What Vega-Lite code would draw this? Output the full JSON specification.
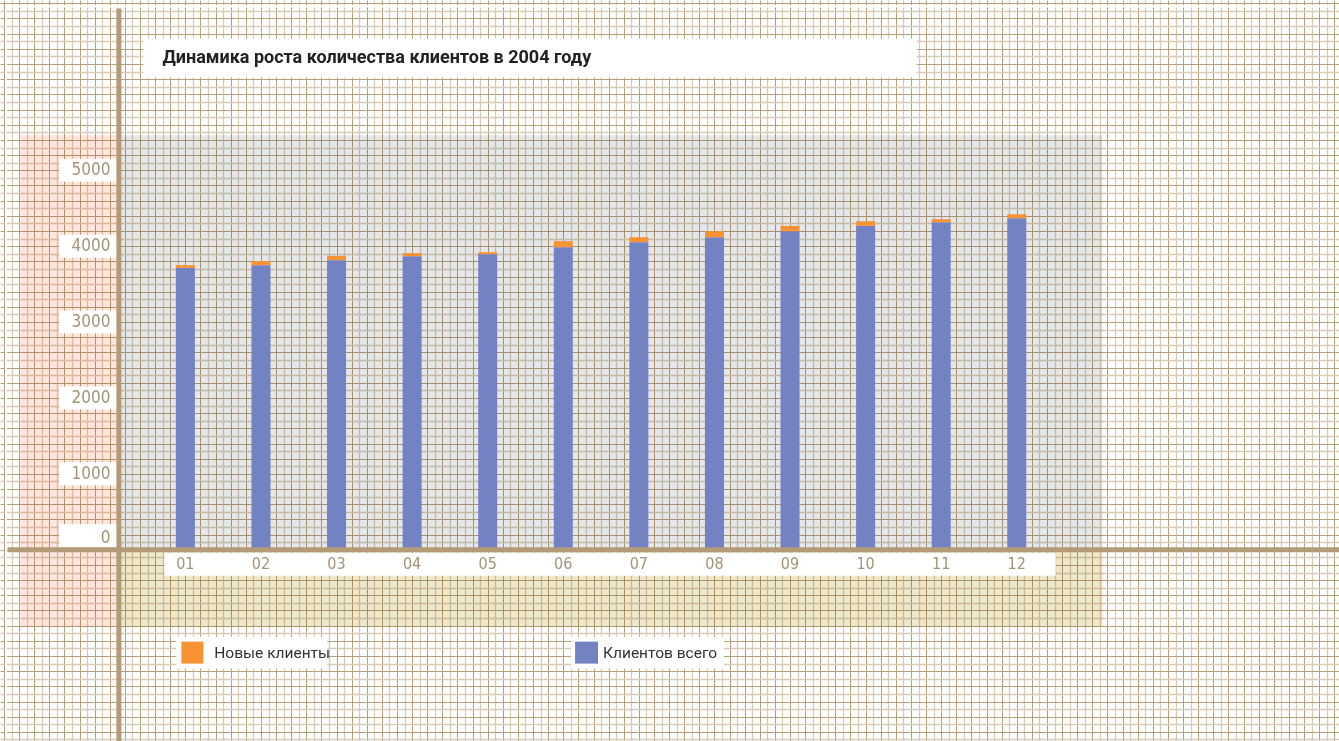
{
  "$schema": "https://vega.github.io/schema/vega-lite/v6.json",
  "width": 1339,
  "height": 741,
  "autosize": {"type": "none"},
  "padding": 0,
  "background": "white",
  "config": {
    "view": {"stroke": null},
    "axis": {"labels": false, "ticks": false, "domain": false, "title": null, "grid": true, "gridOpacity": 1}
  },
  "datasets": {
    "clients": [
      {"month": "01", "m": 1, "series": "Клиентов всего", "value": 3714},
      {"month": "01", "m": 1, "series": "Новые клиенты", "value": 36},
      {"month": "02", "m": 2, "series": "Клиентов всего", "value": 3750},
      {"month": "02", "m": 2, "series": "Новые клиенты", "value": 53},
      {"month": "03", "m": 3, "series": "Клиентов всего", "value": 3816},
      {"month": "03", "m": 3, "series": "Новые клиенты", "value": 56},
      {"month": "04", "m": 4, "series": "Клиентов всего", "value": 3868},
      {"month": "04", "m": 4, "series": "Новые клиенты", "value": 40},
      {"month": "05", "m": 5, "series": "Клиентов всего", "value": 3895},
      {"month": "05", "m": 5, "series": "Новые клиенты", "value": 26},
      {"month": "06", "m": 6, "series": "Клиентов всего", "value": 3987},
      {"month": "06", "m": 6, "series": "Новые клиенты", "value": 79},
      {"month": "07", "m": 7, "series": "Клиентов всего", "value": 4053},
      {"month": "07", "m": 7, "series": "Новые клиенты", "value": 65},
      {"month": "08", "m": 8, "series": "Клиентов всего", "value": 4118},
      {"month": "08", "m": 8, "series": "Новые клиенты", "value": 79},
      {"month": "09", "m": 9, "series": "Клиентов всего", "value": 4197},
      {"month": "09", "m": 9, "series": "Новые клиенты", "value": 70},
      {"month": "10", "m": 10, "series": "Клиентов всего", "value": 4267},
      {"month": "10", "m": 10, "series": "Новые клиенты", "value": 62},
      {"month": "11", "m": 11, "series": "Клиентов всего", "value": 4316},
      {"month": "11", "m": 11, "series": "Новые клиенты", "value": 39},
      {"month": "12", "m": 12, "series": "Клиентов всего", "value": 4368},
      {"month": "12", "m": 12, "series": "Новые клиенты", "value": 53}
    ],
    "ticks": [{"v": 0}, {"v": 1000}, {"v": 2000}, {"v": 3000}, {"v": 4000}, {"v": 5000}],
    "one": [{}]
  },
  "encoding": {
    "x": {
      "type": "quantitative",
      "scale": {"domain": [-1.3863, 16.197], "nice": false, "zero": false},
      "axis": {
        "tickCount": 176,
        "gridColor": {"condition": {"test": "round(datum.value*10) % 2 === 0", "value": "#b6a07c"}, "value": "#d8ccb9"},
        "gridWidth": {"condition": {"test": "round(datum.value*10) % 2 === 0", "value": 1}, "value": 1.3}
      }
    },
    "y": {
      "type": "quantitative",
      "scale": {"domain": [-2453.9, 7177.6], "nice": false, "zero": false},
      "axis": {
        "tickCount": 96,
        "gridColor": {"condition": {"test": "round(datum.value/100) % 2 === 0", "value": "#b6a07c"}, "value": "#d8ccb9"},
        "gridWidth": {"condition": {"test": "round(datum.value/100) % 2 === 0", "value": 1}, "value": 1.3}
      }
    }
  },
  "layer": [
    {
      "data": {"name": "one"},
      "mark": {"type": "rect", "fill": "white"},
      "encoding": {"x": {"datum": -1.3863, "type": "quantitative"}, "x2": {"datum": -1.36}, "y": {"datum": -2453.9, "type": "quantitative"}, "y2": {"datum": 7177.6}}
    },
    {
      "data": {"name": "one"},
      "mark": {"type": "rect", "fill": "white"},
      "encoding": {"x": {"datum": -1.3863, "type": "quantitative"}, "x2": {"datum": 16.197}, "y": {"datum": 7145, "type": "quantitative"}, "y2": {"datum": 7177.6}}
    },
    {
      "data": {"name": "one"},
      "mark": {"type": "rect", "fill": "#ffe6dc", "blend": "multiply"},
      "encoding": {"x": {"datum": -1.1814, "type": "quantitative"}, "x2": {"datum": 0.121}, "y": {"datum": -1013, "type": "quantitative"}, "y2": {"datum": 5460}}
    },
    {
      "data": {"name": "one"},
      "mark": {"type": "rect", "fill": "#e6e7e9", "blend": "multiply"},
      "encoding": {"x": {"datum": 0.121, "type": "quantitative"}, "x2": {"datum": 13.1364}, "y": {"datum": 0, "type": "quantitative"}, "y2": {"datum": 5460}}
    },
    {
      "data": {"name": "one"},
      "mark": {"type": "rect", "fill": "#eee8cc", "blend": "multiply"},
      "encoding": {"x": {"datum": 0.121, "type": "quantitative"}, "x2": {"datum": 13.1364}, "y": {"datum": -1013, "type": "quantitative"}, "y2": {"datum": 0}}
    },
    {
      "data": {"name": "clients"},
      "mark": {"type": "bar", "size": 19},
      "encoding": {
        "x": {"field": "m", "type": "quantitative"},
        "y": {"field": "value", "type": "quantitative", "stack": "zero"},
        "color": {"field": "series", "type": "nominal", "legend": null,
          "scale": {"domain": ["Новые клиенты", "Клиентов всего"], "range": ["#f79332", "#7282c2"]}},
        "order": {"field": "series", "sort": "ascending"}
      }
    },
    {
      "data": {"name": "ticks"},
      "transform": [{"filter": "datum.v > 0"}],
      "mark": {"type": "bar", "orient": "horizontal", "size": 23, "color": "white"},
      "encoding": {"x": {"datum": -0.672, "type": "quantitative"}, "x2": {"datum": 0.11}, "y": {"field": "v", "type": "quantitative"}}
    },
    {
      "data": {"name": "ticks"},
      "transform": [{"filter": "datum.v == 0"}],
      "mark": {"type": "bar", "orient": "horizontal", "size": 23, "color": "white", "yOffset": -14},
      "encoding": {"x": {"datum": -0.672, "type": "quantitative"}, "x2": {"datum": 0.11}, "y": {"field": "v", "type": "quantitative"}}
    },
    {
      "data": {"name": "ticks"},
      "transform": [{"filter": "datum.v > 0"}],
      "mark": {"type": "text", "align": "right", "baseline": "middle", "font": "Liberation Sans Narrow, DejaVu Sans Condensed, Roboto", "fontSize": 17, "color": "#a39476"},
      "encoding": {"x": {"datum": 0.0085, "type": "quantitative"}, "y": {"field": "v", "type": "quantitative"}, "text": {"field": "v", "type": "quantitative", "format": "d"}}
    },
    {
      "data": {"name": "ticks"},
      "transform": [{"filter": "datum.v == 0"}],
      "mark": {"type": "text", "align": "right", "baseline": "middle", "dy": -12, "font": "Liberation Sans Narrow, DejaVu Sans Condensed, Roboto", "fontSize": 17, "color": "#a39476"},
      "encoding": {"x": {"datum": 0.0085, "type": "quantitative"}, "y": {"field": "v", "type": "quantitative"}, "text": {"field": "v", "type": "quantitative", "format": "d"}}
    },
    {
      "data": {"name": "one"},
      "mark": {"type": "rect", "fill": "white"},
      "encoding": {"x": {"datum": 0.7224, "type": "quantitative"}, "x2": {"datum": 12.515}, "y": {"datum": -39.5, "type": "quantitative"}, "y2": {"datum": -342}}
    },
    {
      "data": {"name": "clients"},
      "transform": [{"filter": "datum.series == 'Клиентов всего'"}],
      "mark": {"type": "text", "align": "center", "baseline": "middle", "font": "Liberation Sans Narrow, DejaVu Sans Condensed, Roboto", "fontSize": 16, "color": "#a39476"},
      "encoding": {"x": {"field": "m", "type": "quantitative"}, "y": {"datum": -190, "type": "quantitative"}, "text": {"field": "month", "type": "nominal"}}
    },
    {
      "data": {"name": "one"},
      "mark": {"type": "rule", "color": "#b39b77", "strokeWidth": 5},
      "encoding": {"x": {"datum": 0.1208, "type": "quantitative"}, "y": {"datum": -2700, "type": "quantitative"}, "y2": {"datum": 7131.6}}
    },
    {
      "data": {"name": "one"},
      "mark": {"type": "rule", "color": "#b39b77", "strokeWidth": 5},
      "encoding": {"y": {"datum": 0, "type": "quantitative"}, "x": {"datum": -1.3533, "type": "quantitative"}, "x2": {"datum": 16.4}}
    },
    {
      "data": {"name": "one"},
      "mark": {"type": "rect", "fill": "white"},
      "encoding": {"x": {"datum": 0.4447, "type": "quantitative"}, "x2": {"datum": 10.677}, "y": {"datum": 6223.7, "type": "quantitative"}, "y2": {"datum": 6736.8}}
    },
    {
      "data": {"name": "one"},
      "mark": {"type": "text", "align": "left", "baseline": "middle", "font": "Roboto", "fontWeight": "bold", "fontSize": 18, "color": "#222222", "text": "Динамика роста количества клиентов в 2004 году"},
      "encoding": {"x": {"datum": 0.696, "type": "quantitative"}, "y": {"datum": 6473.7, "type": "quantitative"}}
    },
    {
      "data": {"name": "one"},
      "mark": {"type": "rect", "fill": "white"},
      "encoding": {"x": {"datum": 0.881, "type": "quantitative"}, "x2": {"datum": 2.877}, "y": {"datum": -1144.7, "type": "quantitative"}, "y2": {"datum": -1565.8}}
    },
    {
      "data": {"name": "one"},
      "mark": {"type": "rect", "fill": "white"},
      "encoding": {"x": {"datum": 6.103, "type": "quantitative"}, "x2": {"datum": 8.126}, "y": {"datum": -1144.7, "type": "quantitative"}, "y2": {"datum": -1565.8}}
    },
    {
      "data": {"name": "one"},
      "mark": {"type": "rect"},
      "encoding": {"x": {"datum": 0.947, "type": "quantitative"}, "x2": {"datum": 1.238}, "y": {"datum": -1210.5, "type": "quantitative"}, "y2": {"datum": -1500}, "color": {"datum": "Новые клиенты"}}
    },
    {
      "data": {"name": "one"},
      "mark": {"type": "rect"},
      "encoding": {"x": {"datum": 6.156, "type": "quantitative"}, "x2": {"datum": 6.46}, "y": {"datum": -1210.5, "type": "quantitative"}, "y2": {"datum": -1500}, "color": {"datum": "Клиентов всего"}}
    },
    {
      "data": {"name": "one"},
      "mark": {"type": "text", "align": "left", "baseline": "middle", "font": "Roboto", "fontSize": 15.5, "color": "#333333", "text": "Новые клиенты"},
      "encoding": {"x": {"datum": 1.383, "type": "quantitative"}, "y": {"datum": -1355, "type": "quantitative"}}
    },
    {
      "data": {"name": "one"},
      "mark": {"type": "text", "align": "left", "baseline": "middle", "font": "Roboto", "fontSize": 15.5, "color": "#333333", "text": "Клиентов всего"},
      "encoding": {"x": {"datum": 6.526, "type": "quantitative"}, "y": {"datum": -1355, "type": "quantitative"}}
    }
  ]
}
